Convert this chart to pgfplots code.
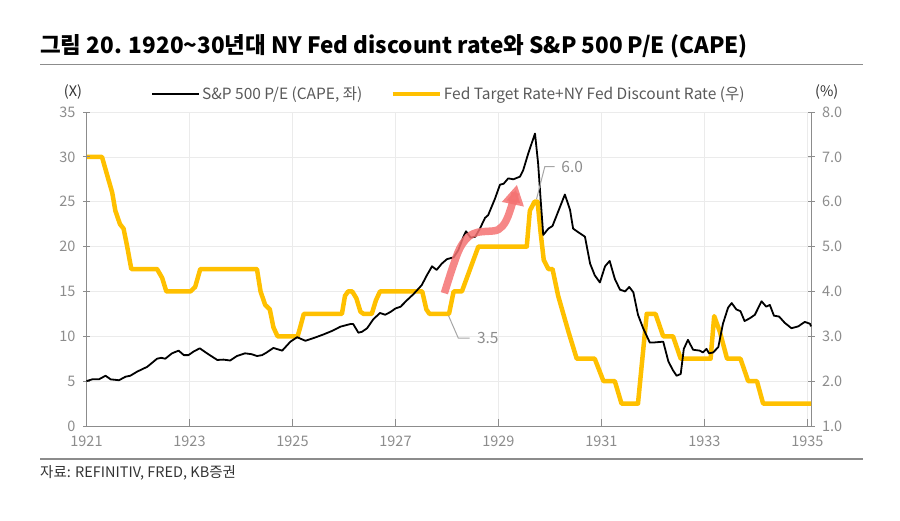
\documentclass[border=0pt]{standalone}
\usepackage{pgfplots}
\pgfplotsset{compat=1.18}
\usepackage{fontspec}
\setmainfont{Noto Sans CJK KR}
\usetikzlibrary{arrows.meta}
\definecolor{gold}{HTML}{FFC000}
\definecolor{gridgray}{HTML}{EBEBEB}
\definecolor{axisgray}{HTML}{8C8C8C}
\definecolor{ticktext}{HTML}{8C8C8C}
\definecolor{legtext}{HTML}{595959}
\definecolor{rulegray}{HTML}{8C8C8C}
\definecolor{arrowred}{HTML}{F47272}
\definecolor{leadgray}{HTML}{A6A6A6}
\begin{document}
\begin{tikzpicture}
\path[use as bounding box] (0pt,0pt) rectangle (900pt,520pt);
% title and rules
\node[anchor=west, inner sep=0pt, font=\bfseries\fontsize{22.5}{26}\selectfont] at (40pt,473.3pt) {그림 20. 1920\textasciitilde 30년대 NY Fed discount rate와 S\&P 500 P/E (CAPE)};
\draw[rulegray, line width=1.5pt] (40pt,455.7pt) -- (863pt,455.7pt);
\draw[rulegray, line width=1.5pt] (40pt,61pt) -- (863pt,61pt);
\node[anchor=west, inner sep=0pt, text=black!80, font=\fontsize{14.5}{16}\selectfont] at (40pt,47.3pt) {자료: REFINITIV, FRED, KB증권};

% Right axis: Fed rate
\begin{axis}[
  at={(86.5pt,94pt)}, anchor=south west, scale only axis,
  width=724.5pt, height=314pt,
  xmin=1921, xmax=1935.07, ymin=1, ymax=8,
  axis x line*=bottom, axis y line*=right,
  xtick={1921,1923,...,1935}, ytick={1,2,...,8},
  xtick align=inside, ytick align=center,
  major tick length=7pt,
  tick style={axisgray, line width=0.8pt},
  axis line style={axisgray, line width=1pt, -},
  grid=major, major grid style={gridgray, line width=0.6pt},
  /pgf/number format/assume math mode=true,
  xticklabel style={/pgf/number format/1000 sep={}, text=ticktext, font=\fontsize{14.5}{16}\selectfont, yshift=-6pt},
  yticklabel style={/pgf/number format/.cd, fixed, fixed zerofill, precision=1, /tikz/.cd, text=ticktext, font=\fontsize{14.5}{16}\selectfont, xshift=4pt},
  clip=false,
]
\addplot[gold, line width=4.5pt, line join=round] coordinates {
(1921.00,7.0)(1921.30,7.0)(1921.40,6.6)(1921.50,6.2)(1921.56,5.8)(1921.65,5.5)(1921.72,5.4)(1921.79,5.0)(1921.87,4.5)(1922.37,4.5)(1922.47,4.3)(1922.55,4.0)(1923.02,4.0)(1923.11,4.1)(1923.21,4.5)(1924.31,4.5)(1924.38,4.0)(1924.47,3.7)(1924.56,3.6)(1924.63,3.2)(1924.71,3.0)(1925.10,3.0)(1925.15,3.2)(1925.22,3.5)(1925.96,3.5)(1926.02,3.9)(1926.08,4.0)(1926.16,4.0)(1926.24,3.85)(1926.32,3.55)(1926.38,3.5)(1926.54,3.5)(1926.62,3.8)(1926.70,4.0)(1927.52,4.0)(1927.60,3.6)(1927.66,3.5)(1928.04,3.5)(1928.13,4.0)(1928.29,4.0)(1928.45,4.5)(1928.61,5.0)(1929.55,5.0)(1929.61,5.8)(1929.70,6.0)(1929.76,6.0)(1929.82,5.3)(1929.88,4.7)(1929.97,4.5)(1930.05,4.5)(1930.16,3.9)(1930.26,3.5)(1930.36,3.1)(1930.52,2.5)(1930.87,2.5)(1931.04,2.0)(1931.26,2.0)(1931.39,1.5)(1931.71,1.5)(1931.88,3.5)(1932.05,3.5)(1932.20,3.0)(1932.39,3.0)(1932.54,2.5)(1933.12,2.5)(1933.19,3.45)(1933.30,3.1)(1933.44,2.5)(1933.70,2.5)(1933.85,2.0)(1934.02,2.0)(1934.14,1.5)(1935.07,1.5)
};
\end{axis}

% Left axis: CAPE
\begin{axis}[
  at={(86.5pt,94pt)}, anchor=south west, scale only axis,
  width=724.5pt, height=314pt,
  xmin=1921, xmax=1935.07, ymin=0, ymax=35,
  axis x line=none, axis y line*=left,
  ytick={0,5,...,35},
  ytick align=center,
  major tick length=7pt,
  tick style={axisgray, line width=0.8pt},
  axis line style={axisgray, line width=1pt, -},
  /pgf/number format/assume math mode=true,
  yticklabel style={text=ticktext, font=\fontsize{14.5}{16}\selectfont, xshift=-4pt},
  clip=false,
  legend style={at={(rel axis cs:0.5003,1.057)}, anchor=center, draw=none, fill=none,
    legend columns=2, font=\fontsize{15.5}{17}\selectfont, text=legtext,
    /tikz/every even column/.append style={column sep=26pt},
    legend cell align=left, inner sep=0pt},
  legend image code/.code={\draw[#1] (0pt,0pt) -- (47pt,0pt);},
]
\addplot[black, line width=1.8pt, line join=round] coordinates {
(1921.00,5.0)(1921.11,5.2)(1921.24,5.2)(1921.37,5.6)(1921.47,5.2)(1921.63,5.1)(1921.76,5.5)(1921.85,5.6)(1921.98,6.05)(1922.18,6.6)(1922.37,7.5)(1922.45,7.6)(1922.53,7.5)(1922.66,8.1)(1922.79,8.4)(1922.89,7.9)(1922.98,7.9)(1923.08,8.3)(1923.20,8.66)(1923.34,8.1)(1923.54,7.36)(1923.66,7.4)(1923.79,7.3)(1923.92,7.8)(1924.08,8.1)(1924.21,8.0)(1924.31,7.8)(1924.41,7.9)(1924.50,8.2)(1924.63,8.7)(1924.80,8.4)(1924.96,9.4)(1925.09,9.9)(1925.25,9.5)(1925.41,9.8)(1925.60,10.2)(1925.77,10.6)(1925.93,11.07)(1926.12,11.36)(1926.18,11.36)(1926.28,10.4)(1926.35,10.5)(1926.45,10.9)(1926.57,11.9)(1926.70,12.6)(1926.80,12.4)(1926.90,12.7)(1927.0,13.1)(1927.10,13.3)(1927.22,14.0)(1927.35,14.7)(1927.51,15.7)(1927.61,16.8)(1927.71,17.8)(1927.80,17.4)(1927.90,18.1)(1928.0,18.6)(1928.13,18.8)(1928.22,19.6)(1928.32,21.1)(1928.37,21.7)(1928.46,21.0)(1928.55,21.1)(1928.64,22.0)(1928.74,23.2)(1928.80,23.5)(1928.93,25.3)(1929.03,26.9)(1929.10,27.0)(1929.19,27.6)(1929.29,27.5)(1929.42,27.8)(1929.48,28.5)(1929.58,30.4)(1929.71,32.6)(1929.77,29.3)(1929.82,25.2)(1929.87,21.3)(1929.97,22.0)(1930.05,22.3)(1930.16,23.9)(1930.29,25.8)(1930.39,24.1)(1930.45,22.0)(1930.55,21.6)(1930.68,21.1)(1930.78,18.1)(1930.87,16.8)(1930.97,16.0)(1931.07,17.8)(1931.16,18.4)(1931.26,16.4)(1931.36,15.2)(1931.46,15.0)(1931.54,15.5)(1931.62,14.9)(1931.71,12.4)(1931.81,10.9)(1931.94,9.3)(1932.00,9.3)(1932.20,9.4)(1932.30,7.2)(1932.39,6.2)(1932.46,5.6)(1932.54,5.8)(1932.60,8.6)(1932.68,9.6)(1932.78,8.5)(1932.91,8.4)(1932.97,8.2)(1933.04,8.6)(1933.09,8.1)(1933.17,8.2)(1933.27,8.8)(1933.36,11.4)(1933.46,13.2)(1933.53,13.7)(1933.62,12.99)(1933.70,12.8)(1933.78,11.7)(1933.88,12.0)(1933.98,12.4)(1934.11,13.9)(1934.20,13.3)(1934.27,13.5)(1934.35,12.3)(1934.45,12.2)(1934.56,11.5)(1934.69,10.9)(1934.82,11.1)(1934.95,11.6)(1935.05,11.4)(1935.07,11.1)
};
\addlegendentry{S\&P 500 P/E (CAPE, 좌)}
\addlegendimage{gold, line width=4.5pt}
\addlegendentry{Fed Target Rate+NY Fed Discount Rate (우)}

% red arrow
\addplot[arrowred, opacity=0.85, line width=7.5pt, smooth, tension=0.6, -{Triangle[length=20pt,width=21pt]}, forget plot] coordinates {
(1927.95,14.8)(1928.10,17.5)(1928.25,19.8)(1928.42,21.1)(1928.60,21.6)(1928.80,21.7)(1929.00,21.9)(1929.15,22.9)(1929.28,25.0)(1929.36,26.9)
};

% leader lines
\addplot[leadgray, line width=1pt, forget plot] coordinates {(1929.74,25.3)(1929.90,28.9)(1930.09,28.9)};
\addplot[leadgray, line width=1pt, forget plot] coordinates {(1928.03,12.3)(1928.22,9.8)(1928.44,9.8)};
\node[anchor=west, text=ticktext, font=\fontsize{15.5}{17}\selectfont, inner sep=0pt] at (axis cs:1930.22,28.9) {6.0};
\node[anchor=west, text=ticktext, font=\fontsize{15.5}{17}\selectfont, inner sep=0pt] at (axis cs:1928.58,9.8) {3.5};

\node[text=black!80, font=\fontsize{14.5}{16}\selectfont] at (rel axis cs:-0.0186,1.0647) {(X)};
\node[text=black!80, font=\fontsize{14.5}{16}\selectfont] at (rel axis cs:1.0217,1.0647) {(\%)};
\end{axis}
\end{tikzpicture}
\end{document}
